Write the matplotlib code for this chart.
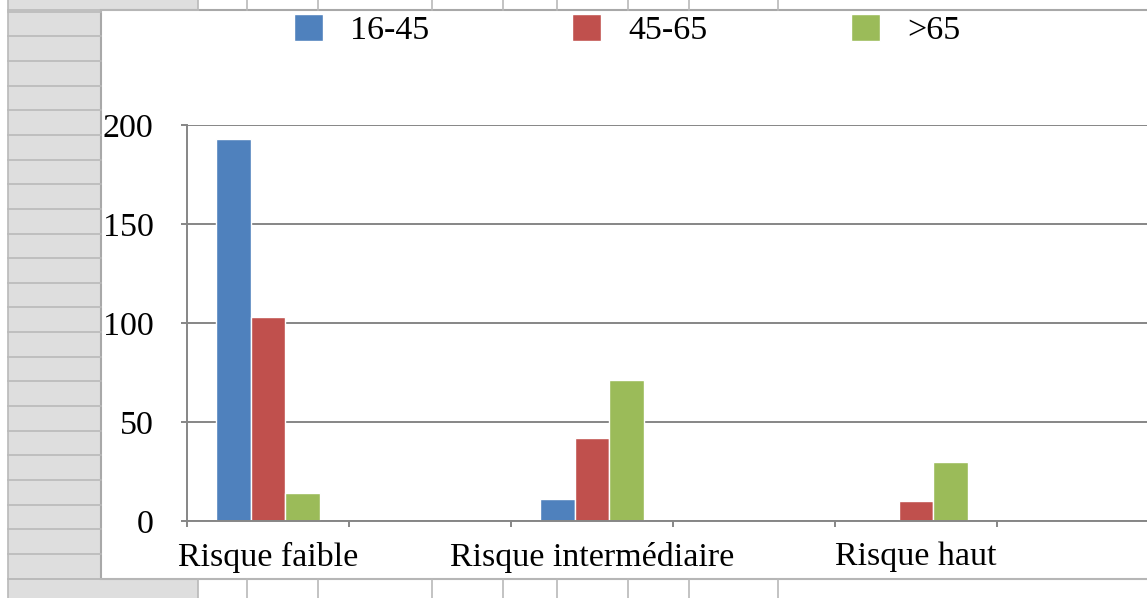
import numpy as np
import matplotlib
matplotlib.use('Agg')
import matplotlib.pyplot as plt
from matplotlib.patches import Rectangle

plt.rcParams['font.family'] = ['Liberation Serif', 'DejaVu Serif']

# data (blank rows of the sheet kept as empty categories)
categories = ['Risque faible', '', 'Risque intermédiaire', '', 'Risque haut', '']
age_16_45 = [193, np.nan, 11, np.nan, 0, np.nan]
age_45_65 = [103, np.nan, 42, np.nan, 10, np.nan]
age_65 = [14, np.nan, 71, np.nan, 30, np.nan]
series_names = ['16-45', '45-65', '>65']
colors = ['#4F81BD', '#C0504D', '#9BBB59']

W, H = 1147, 598
fig = plt.figure(figsize=(W/100, H/100), dpi=100)

# spreadsheet behind the chart
bg = fig.add_axes([0, 0, 1, 1], zorder=-5)
bg.set_xlim(0, W)
bg.set_ylim(H, 0)
bg.axis('off')
cell = '#b9b9b9'
bg.add_patch(Rectangle((8, 0), 190, H, facecolor='#dedede', edgecolor='none'))
bg.axvline(8, color=cell, lw=1.2)
for yy in np.arange(11.7, H, 24.65):
    bg.plot([8, 101], [yy, yy], color=cell, lw=1.2)
for xx in [198, 247, 318, 432, 503, 557, 628, 689, 778]:
    bg.plot([xx, xx], [0, 10], color=cell, lw=1.2)
    bg.plot([xx, xx], [579, H], color=cell, lw=1.2)
bg.plot([8, 198], [10, 10], color=cell, lw=1.2)
bg.plot([8, W], [579, 579], color=cell, lw=1.2)
bg.add_patch(Rectangle((101, 10), 1100, 569, facecolor='white', edgecolor='#a8a8a8', lw=1.5))

ax = fig.add_axes([187/W, 77/H, 972/W, 396/H])
x = np.arange(len(categories))
w = 0.216
bars = []
for i, (vals, c) in enumerate(zip([age_16_45, age_45_65, age_65], colors)):
    b = ax.bar(x + (i - 1) * w, vals, w, color=c, edgecolor='white', lw=1.0,
               label=series_names[i])
    bars.append(b)

ax.set_xlim(-0.5, len(categories) - 0.5)
ax.set_ylim(0, 200)
ax.set_yticks([0, 50, 100, 150, 200])
ax.set_axisbelow(True)
ax.yaxis.grid(True, color='#868686', lw=1.4)
for s in ['top', 'right']:
    ax.spines[s].set_visible(False)
for s in ['left', 'bottom']:
    ax.spines[s].set_color('#868686')
    ax.spines[s].set_linewidth(1.4)

ax.set_xticks(x)
ax.set_xticklabels(categories)
ax.set_xticks(np.arange(-0.5, len(categories)), minor=True)
ax.tick_params(axis='x', which='major', length=0, pad=15, labelsize=24.5)
ax.tick_params(axis='x', which='minor', length=4, width=1.4, color='#868686', direction='out')
ax.tick_params(axis='y', length=4, width=1.4, color='#868686', pad=20, labelsize=24.5)

fig.legend(handles=bars, labels=series_names, loc='center', ncol=3,
           bbox_to_anchor=(627/W, 1 - 30/H), frameon=False, fontsize=24.5,
           handlelength=0.85, handleheight=0.85, handletextpad=0.8, columnspacing=4.2)

fig.savefig('out.png', dpi=100)
